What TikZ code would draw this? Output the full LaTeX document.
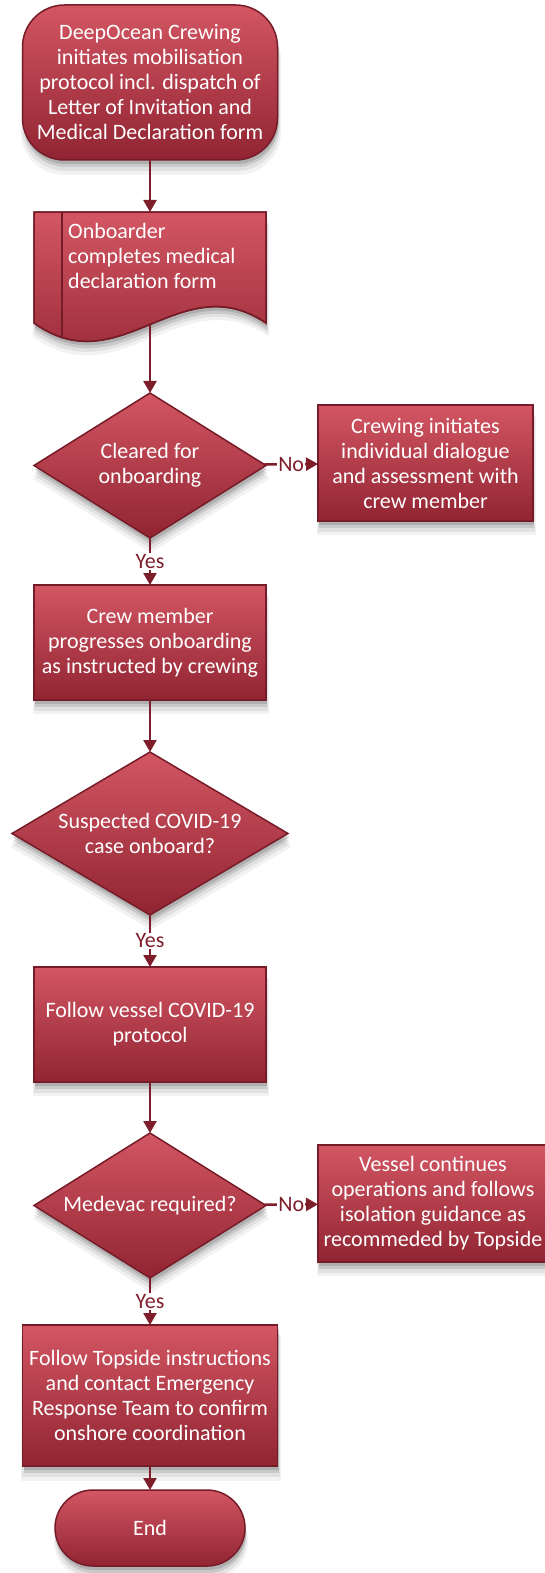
\documentclass[tikz,border=0pt]{standalone}
\usepackage{fontspec}
\setmainfont{Carlito}
\usetikzlibrary{shapes.geometric,arrows.meta,shadows}
\definecolor{topc}{RGB}{211,86,99}
\definecolor{botc}{RGB}{145,36,50}
\definecolor{edgec}{RGB}{118,28,40}
\definecolor{linec}{RGB}{125,30,42}
\newcommand{\bodyfont}{\fontsize{22}{25}\selectfont}
\begin{document}
\begin{tikzpicture}[x=1pt,y=-1pt,
  softshadow/.style={
    drop shadow={opacity=0.10, shadow xshift=1pt, shadow yshift=-13pt, shadow scale=1.02},
    drop shadow={opacity=0.15, shadow xshift=1pt, shadow yshift=-10pt, shadow scale=1.01},
    drop shadow={opacity=0.25, shadow xshift=1pt, shadow yshift=-7pt},
    drop shadow={opacity=0.35, shadow xshift=1pt, shadow yshift=-4pt}},
  fillstyle/.style={draw=edgec, line width=1.5pt, top color=topc, bottom color=botc, softshadow},
  base/.style={fillstyle, text=white, font=\bodyfont, align=center, inner sep=0pt, outer sep=0pt},
  proc/.style={base, rectangle},
  term/.style={base, rectangle},
  dec/.style={base, diamond, aspect=1.7},
  conn/.style={draw=linec, line width=2.5pt, -{Triangle[length=12pt,width=13pt]}},
  lab/.style={fill=white, text=linec, font=\bodyfont, inner sep=1pt}]
\useasboundingbox (0,0) rectangle (545,1573);

\node[term, rounded corners=42pt, minimum width=255pt, minimum height=155pt] (start) at (150,82.5)
  {DeepOcean Crewing\\initiates mobilisation\\protocol incl. dispatch of\\Letter of Invitation and\\Medical Declaration form};

% document shape
\path[fillstyle] (34,212) -- (266,212) -- (266,323) .. controls (180,265) and (120,385) .. (34,323) -- cycle;
\begin{scope}
  \clip (34,212) -- (266,212) -- (266,323) .. controls (180,265) and (120,385) .. (34,323) -- cycle;
  \draw[edgec, line width=1.5pt] (62,212) -- (62,370);
\end{scope}
\draw[edgec, line width=1.5pt] (34,212) -- (266,212) -- (266,323) .. controls (180,265) and (120,385) .. (34,323) -- cycle;
\node[text=white, font=\bodyfont, align=left, anchor=west, inner sep=0pt] (doc) at (68,255.5)
  {Onboarder\\completes medical\\declaration form};
\coordinate (doct) at (150,212);
\coordinate (docb) at (150,325);

\node[dec, minimum width=232pt, minimum height=145pt] (d1) at (150,465.5) {Cleared for\\onboarding};
\node[proc, minimum width=215pt, minimum height=116pt] (crewing) at (425.5,463)
  {Crewing initiates\\individual dialogue\\and assessment with\\crew member};
\node[proc, minimum width=232pt, minimum height=115pt] (crew) at (150,642.5)
  {Crew member\\progresses onboarding\\as instructed by crewing};
\node[dec, minimum width=276pt, minimum height=163pt] (d2) at (150,833.5)
  {Suspected COVID-19\\case onboard?};
\node[proc, minimum width=232pt, minimum height=115pt] (vessel) at (150,1024.5)
  {Follow vessel COVID-19\\protocol};
\node[dec, minimum width=232pt, minimum height=145pt] (d3) at (150,1205.5) {Medevac required?};
\node[proc, minimum width=230pt, minimum height=117pt] (cont) at (433,1203.5)
  {Vessel continues\\operations and follows\\isolation guidance as\\recommeded by Topside};
\node[proc, minimum width=255pt, minimum height=141pt] (topside) at (150,1395.5)
  {Follow Topside instructions\\and contact Emergency\\Response Team to confirm\\onshore coordination};
\node[term, rounded corners=38pt, minimum width=190pt, minimum height=76pt] (end) at (150,1528) {End};

\draw[conn] (start) -- (doct);
\draw[conn] (docb) -- (d1);
\draw[conn] (d1) -- node[lab]{No} (crewing);
\draw[conn] (d1) -- node[lab]{Yes} (crew);
\draw[conn] (crew) -- (d2);
\draw[conn] (d2) -- node[lab]{Yes} (vessel);
\draw[conn] (vessel) -- (d3);
\draw[conn] (d3) -- node[lab]{No} (cont);
\draw[conn] (d3) -- node[lab]{Yes} (topside);
\draw[conn] (topside) -- (end);
\end{tikzpicture}
\end{document}
